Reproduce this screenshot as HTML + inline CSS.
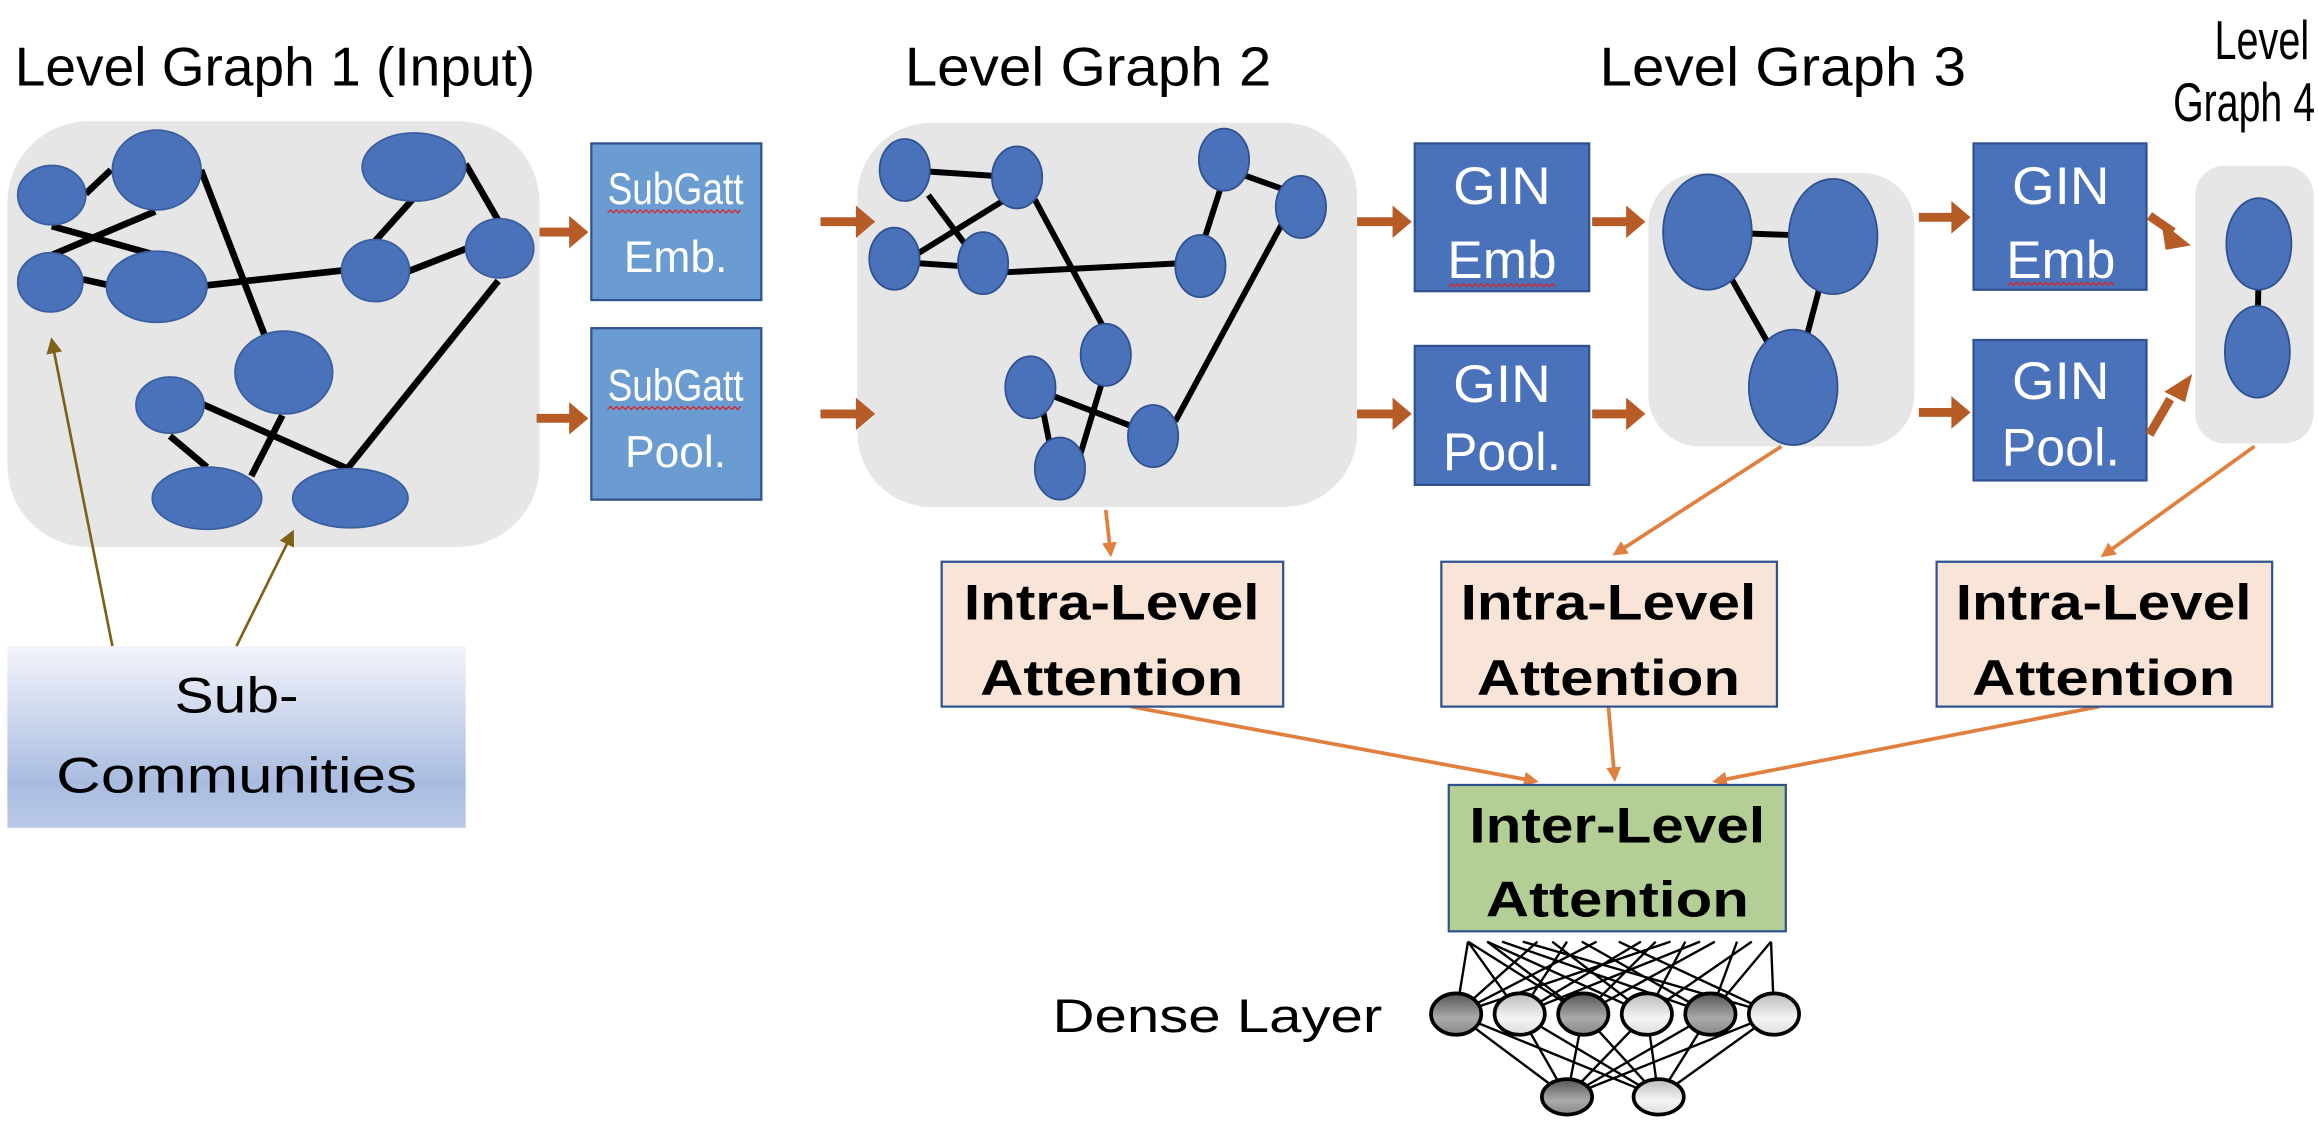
<!DOCTYPE html>
<html><head><meta charset="utf-8"><style>html,body{margin:0;padding:0;background:#fff}svg{display:block}</style></head>
<body>
<svg width="2318" height="1122" viewBox="0 0 1568 759" preserveAspectRatio="none" xmlns="http://www.w3.org/2000/svg" font-family="'Liberation Sans', sans-serif">
<defs>
<linearGradient id="sg" x1="0" y1="0" x2="0" y2="1"><stop offset="0" stop-color="#f4f5fb"/><stop offset="0.75" stop-color="#a9bce0"/><stop offset="1" stop-color="#b9c8e6"/></linearGradient>
<linearGradient id="dk" x1="0" y1="0" x2="0" y2="1"><stop offset="0" stop-color="#555"/><stop offset="0.6" stop-color="#aaa"/><stop offset="1" stop-color="#888"/></linearGradient>
<linearGradient id="lt" x1="0" y1="0" x2="0" y2="1"><stop offset="0" stop-color="#bbb"/><stop offset="0.6" stop-color="#f4f4f4"/><stop offset="1" stop-color="#ddd"/></linearGradient>
<marker id="ob" markerWidth="4" markerHeight="4" refX="2" refY="2" orient="auto" markerUnits="strokeWidth"><path d="M0,0 L4,2 L0,4 z" fill="#e07f3e"/></marker>
<marker id="br" markerWidth="6" markerHeight="6" refX="5" refY="3" orient="auto" markerUnits="strokeWidth"><path d="M0,0 L6,3 L0,6 z" fill="#7d6117"/></marker>
</defs>

<g font-size="37" fill="#000">
<text x="10" y="58" textLength="352" lengthAdjust="spacingAndGlyphs">Level Graph 1 (Input)</text>
<text x="612" y="58" textLength="248" lengthAdjust="spacingAndGlyphs">Level Graph 2</text>
<text x="1082" y="58" textLength="248" lengthAdjust="spacingAndGlyphs">Level Graph 3</text>
<text x="1498" y="40" textLength="64" lengthAdjust="spacingAndGlyphs">Level</text>
<text x="1470" y="82" textLength="96" lengthAdjust="spacingAndGlyphs">Graph 4</text>
</g>

<rect x="5" y="82" width="360" height="288" rx="55" fill="#e6e6e6"/>
<rect x="580" y="83" width="338" height="260" rx="50" fill="#e6e6e6"/>
<rect x="1115" y="117" width="180" height="185" rx="35" fill="#e6e6e6"/>
<rect x="1485" y="112" width="80" height="188" rx="20" fill="#e6e6e6"/>

<g stroke="#000" stroke-width="4.5">
<line x1="58" y1="131" x2="75" y2="115"/><line x1="35" y1="153" x2="107" y2="173"/><line x1="34" y1="173" x2="105" y2="143"/>
<line x1="56" y1="189" x2="74" y2="193"/><line x1="136" y1="115" x2="181" y2="232"/><line x1="140" y1="193" x2="231" y2="183"/>
<line x1="252" y1="165" x2="279" y2="135"/><line x1="275" y1="184" x2="316" y2="168"/><line x1="315" y1="111" x2="337" y2="149"/>
<line x1="337" y1="190" x2="235" y2="317"/><line x1="136" y1="273" x2="235" y2="317"/><line x1="115" y1="295" x2="140" y2="316"/>
<line x1="191" y1="281" x2="170" y2="322"/>
</g>
<g fill="#4a72bb" stroke="#3a5f9e" stroke-width="1.2">
<ellipse cx="35" cy="132" rx="23" ry="20"/><ellipse cx="106" cy="115" rx="30" ry="27"/><ellipse cx="34" cy="191" rx="22" ry="20"/>
<ellipse cx="106" cy="194" rx="34" ry="24"/><ellipse cx="280" cy="113" rx="35" ry="23"/><ellipse cx="254" cy="183" rx="23" ry="21"/>
<ellipse cx="338" cy="168" rx="23" ry="20"/><ellipse cx="192" cy="252" rx="33" ry="28"/><ellipse cx="115" cy="274" rx="23" ry="19"/>
<ellipse cx="140" cy="337" rx="37" ry="21"/><ellipse cx="237" cy="337" rx="39" ry="20"/>
</g>

<g stroke="#000" stroke-width="4">
<line x1="612" y1="115" x2="688" y2="120"/><line x1="628" y1="132" x2="655" y2="168"/><line x1="688" y1="130" x2="620" y2="172"/>
<line x1="620" y1="178" x2="650" y2="180"/><line x1="665" y1="185" x2="800" y2="178"/><line x1="700" y1="135" x2="750" y2="228"/>
<line x1="828" y1="120" x2="812" y2="170"/><line x1="840" y1="118" x2="868" y2="128"/><line x1="868" y1="150" x2="795" y2="285"/>
<line x1="697" y1="262" x2="770" y2="290"/><line x1="748" y1="250" x2="730" y2="310"/><line x1="705" y1="275" x2="712" y2="310"/>
</g>
<g fill="#4a72bb" stroke="#2f528f" stroke-width="1.2">
<ellipse cx="612" cy="115" rx="17" ry="21"/><ellipse cx="688" cy="120" rx="17" ry="21"/><ellipse cx="605" cy="175" rx="17" ry="21"/>
<ellipse cx="665" cy="178" rx="17" ry="21"/><ellipse cx="812" cy="180" rx="17" ry="21"/><ellipse cx="828" cy="108" rx="17" ry="21"/>
<ellipse cx="880" cy="140" rx="17" ry="21"/><ellipse cx="748" cy="240" rx="17" ry="21"/><ellipse cx="697" cy="262" rx="17" ry="21"/>
<ellipse cx="780" cy="295" rx="17" ry="21"/><ellipse cx="717" cy="317" rx="17" ry="21"/>
</g>

<g stroke="#000" stroke-width="4"><line x1="1155" y1="157" x2="1240" y2="160"/><line x1="1155" y1="160" x2="1213" y2="262"/><line x1="1240" y1="160" x2="1213" y2="262"/></g>
<g fill="#4a72bb" stroke="#2f528f" stroke-width="1.2">
<ellipse cx="1155" cy="157" rx="30" ry="39"/><ellipse cx="1240" cy="160" rx="30" ry="39"/><ellipse cx="1213" cy="262" rx="30" ry="39"/>
</g>
<line x1="1528" y1="170" x2="1527" y2="235" stroke="#000" stroke-width="4"/>
<g fill="#4a72bb" stroke="#2f528f" stroke-width="1.2"><ellipse cx="1528" cy="165" rx="22" ry="31"/><ellipse cx="1527" cy="238" rx="22" ry="31"/></g>

<g stroke="#2f528f" stroke-width="1.5">
<rect x="400" y="97" width="115" height="106" fill="#6a9bd1"/>
<rect x="400" y="222" width="115" height="116" fill="#6a9bd1"/>
<rect x="957" y="97" width="118" height="100" fill="#4a72bb"/>
<rect x="957" y="234" width="118" height="94" fill="#4a72bb"/>
<rect x="1335" y="97" width="117" height="99" fill="#4a72bb"/>
<rect x="1335" y="230" width="117" height="95" fill="#4a72bb"/>
</g>
<g fill="#fff" text-anchor="middle">
<text x="457" y="138" font-size="30" textLength="92" lengthAdjust="spacingAndGlyphs">SubGatt</text>
<text x="457" y="184" font-size="30">Emb.</text>
<text x="457" y="271" font-size="30" textLength="92" lengthAdjust="spacingAndGlyphs">SubGatt</text>
<text x="457" y="316" font-size="30">Pool.</text>
<text x="1016" y="138" font-size="36" textLength="66" lengthAdjust="spacingAndGlyphs">GIN</text>
<text x="1016" y="188" font-size="36" textLength="74" lengthAdjust="spacingAndGlyphs">Emb</text>
<text x="1016" y="272" font-size="36" textLength="66" lengthAdjust="spacingAndGlyphs">GIN</text>
<text x="1016" y="318" font-size="36" textLength="80" lengthAdjust="spacingAndGlyphs">Pool.</text>
<text x="1394" y="138" font-size="36" textLength="66" lengthAdjust="spacingAndGlyphs">GIN</text>
<text x="1394" y="188" font-size="36" textLength="74" lengthAdjust="spacingAndGlyphs">Emb</text>
<text x="1394" y="270" font-size="36" textLength="66" lengthAdjust="spacingAndGlyphs">GIN</text>
<text x="1394" y="315" font-size="36" textLength="80" lengthAdjust="spacingAndGlyphs">Pool.</text>
</g>
<g fill="none" stroke="#e02020" stroke-width="0.8">
<path d="M411,144 l2,-2 l2,2 l2,-2 l2,2 l2,-2 l2,2 l2,-2 l2,2 l2,-2 l2,2 l2,-2 l2,2 l2,-2 l2,2 l2,-2 l2,2 l2,-2 l2,2 l2,-2 l2,2 l2,-2 l2,2 l2,-2 l2,2 l2,-2 l2,2 l2,-2 l2,2 l2,-2 l2,2 l2,-2 l2,2 l2,-2 l2,2 l2,-2 l2,2 l2,-2 l2,2 l2,-2 l2,2 l2,-2 l2,2 l2,-2 l2,2 l2,-2"/>
<path d="M411,277 l2,-2 l2,2 l2,-2 l2,2 l2,-2 l2,2 l2,-2 l2,2 l2,-2 l2,2 l2,-2 l2,2 l2,-2 l2,2 l2,-2 l2,2 l2,-2 l2,2 l2,-2 l2,2 l2,-2 l2,2 l2,-2 l2,2 l2,-2 l2,2 l2,-2 l2,2 l2,-2 l2,2 l2,-2 l2,2 l2,-2 l2,2 l2,-2 l2,2 l2,-2 l2,2 l2,-2 l2,2 l2,-2 l2,2 l2,-2 l2,2 l2,-2"/>
<path d="M980,194 l2,-2 l2,2 l2,-2 l2,2 l2,-2 l2,2 l2,-2 l2,2 l2,-2 l2,2 l2,-2 l2,2 l2,-2 l2,2 l2,-2 l2,2 l2,-2 l2,2 l2,-2 l2,2 l2,-2 l2,2 l2,-2 l2,2 l2,-2 l2,2 l2,-2 l2,2 l2,-2 l2,2 l2,-2 l2,2 l2,-2 l2,2 l2,-2 l2,2"/>
<path d="M1358,193 l2,-2 l2,2 l2,-2 l2,2 l2,-2 l2,2 l2,-2 l2,2 l2,-2 l2,2 l2,-2 l2,2 l2,-2 l2,2 l2,-2 l2,2 l2,-2 l2,2 l2,-2 l2,2 l2,-2 l2,2 l2,-2 l2,2 l2,-2 l2,2 l2,-2 l2,2 l2,-2 l2,2 l2,-2 l2,2 l2,-2 l2,2 l2,-2 l2,2"/>
</g>

<g fill="#b85c27">
<path d="M365,154 h20 v-8 l13,11 l-13,11 v-8 h-20 z"/>
<path d="M363,280 h22 v-8 l13,11 l-13,11 v-8 h-22 z"/>
<path d="M555,147 h24 v-8 l13,11 l-13,11 v-8 h-24 z"/>
<path d="M555,277 h24 v-8 l13,11 l-13,11 v-8 h-24 z"/>
<path d="M918,147 h24 v-8 l13,11 l-13,11 v-8 h-24 z"/>
<path d="M918,277 h24 v-8 l13,11 l-13,11 v-8 h-24 z"/>
<path d="M1077,147 h23 v-8 l13,11 l-13,11 v-8 h-23 z"/>
<path d="M1077,277 h23 v-8 l13,11 l-13,11 v-8 h-23 z"/>
<path d="M1298,144 h22 v-8 l13,11 l-13,11 v-8 h-22 z"/>
<path d="M1298,276 h22 v-8 l13,11 l-13,11 v-8 h-22 z"/>
</g>
<g stroke="#b85c27" stroke-width="6"><line x1="1454" y1="146" x2="1470" y2="157"/><line x1="1454" y1="294" x2="1468" y2="270"/></g>
<path d="M1462,150 l20,16 l-17,3 z M1464,265 l19,-12 l-5,19 z" fill="#b85c27"/>

<g stroke="#e07f3e" stroke-width="2.5" fill="none" marker-end="url(#ob)">
<line x1="748" y1="345" x2="751" y2="372"/>
<line x1="1205" y1="302" x2="1095" y2="373"/>
<line x1="1525" y1="302" x2="1425" y2="374"/>
<line x1="765" y1="478" x2="1036" y2="528"/>
<line x1="1088" y1="478" x2="1092" y2="524"/>
<line x1="1420" y1="478" x2="1163" y2="528"/>
</g>

<g stroke="#2f528f" stroke-width="1.5">
<rect x="637" y="380" width="231" height="98" fill="#f8e5d8"/>
<rect x="975" y="380" width="227" height="98" fill="#f8e5d8"/>
<rect x="1310" y="380" width="227" height="98" fill="#f8e5d8"/>
<rect x="980" y="531" width="228" height="99" fill="#b3cf95"/>
</g>
<g font-weight="bold" font-size="34" text-anchor="middle" fill="#000">
<text x="752" y="419" textLength="200" lengthAdjust="spacingAndGlyphs">Intra-Level</text>
<text x="752" y="470" textLength="178" lengthAdjust="spacingAndGlyphs">Attention</text>
<text x="1088" y="419" textLength="200" lengthAdjust="spacingAndGlyphs">Intra-Level</text>
<text x="1088" y="470" textLength="178" lengthAdjust="spacingAndGlyphs">Attention</text>
<text x="1423" y="419" textLength="200" lengthAdjust="spacingAndGlyphs">Intra-Level</text>
<text x="1423" y="470" textLength="178" lengthAdjust="spacingAndGlyphs">Attention</text>
<text x="1094" y="570" textLength="200" lengthAdjust="spacingAndGlyphs">Inter-Level</text>
<text x="1094" y="620" textLength="178" lengthAdjust="spacingAndGlyphs">Attention</text>
</g>

<rect x="5" y="437" width="310" height="123" fill="url(#sg)"/>
<g font-size="34" text-anchor="middle" fill="#000">
<text x="160" y="482" textLength="84" lengthAdjust="spacingAndGlyphs">Sub-</text>
<text x="160" y="536" textLength="244" lengthAdjust="spacingAndGlyphs">Communities</text>
</g>
<g stroke="#7d6117" stroke-width="1.8" marker-end="url(#br)">
<line x1="76" y1="437" x2="35" y2="230"/>
<line x1="160" y1="437" x2="198" y2="360"/>
</g>

<text x="712" y="698" font-size="32" textLength="223" lengthAdjust="spacingAndGlyphs">Dense Layer</text>
<g stroke="#000" stroke-width="1.6">
<line x1="993" y1="637" x2="985" y2="686"/><line x1="993" y1="637" x2="1028" y2="686"/><line x1="993" y1="637" x2="1071" y2="686"/>
<line x1="1006" y1="637" x2="1071" y2="686"/><line x1="1006" y1="637" x2="1114" y2="686"/><line x1="1016" y1="637" x2="1157" y2="686"/>
<line x1="1030" y1="637" x2="1200" y2="686"/><line x1="1040" y1="637" x2="985" y2="686"/><line x1="1050" y1="637" x2="1114" y2="686"/>
<line x1="1060" y1="637" x2="1028" y2="686"/><line x1="1070" y1="637" x2="1157" y2="686"/><line x1="1080" y1="637" x2="985" y2="686"/>
<line x1="1095" y1="637" x2="1200" y2="686"/><line x1="1110" y1="637" x2="1028" y2="686"/><line x1="1120" y1="637" x2="1071" y2="686"/>
<line x1="1130" y1="637" x2="985" y2="686"/><line x1="1140" y1="637" x2="1114" y2="686"/><line x1="1150" y1="637" x2="1028" y2="686"/>
<line x1="1160" y1="637" x2="1071" y2="686"/><line x1="1175" y1="637" x2="1157" y2="686"/><line x1="1185" y1="637" x2="1114" y2="686"/>
<line x1="1198" y1="637" x2="1200" y2="686"/><line x1="1198" y1="637" x2="1157" y2="686"/>
<line x1="985" y1="686" x2="1060" y2="742"/><line x1="985" y1="686" x2="1122" y2="742"/>
<line x1="1028" y1="686" x2="1060" y2="742"/><line x1="1028" y1="686" x2="1122" y2="742"/>
<line x1="1071" y1="686" x2="1060" y2="742"/><line x1="1071" y1="686" x2="1122" y2="742"/>
<line x1="1114" y1="686" x2="1060" y2="742"/><line x1="1114" y1="686" x2="1122" y2="742"/>
<line x1="1157" y1="686" x2="1060" y2="742"/><line x1="1157" y1="686" x2="1122" y2="742"/>
<line x1="1200" y1="686" x2="1060" y2="742"/><line x1="1200" y1="686" x2="1122" y2="742"/>
</g>
<g stroke="#000" stroke-width="2.5">
<ellipse cx="985" cy="686" rx="17" ry="14" fill="url(#dk)"/><ellipse cx="1028" cy="686" rx="17" ry="14" fill="url(#lt)"/>
<ellipse cx="1071" cy="686" rx="17" ry="14" fill="url(#dk)"/><ellipse cx="1114" cy="686" rx="17" ry="14" fill="url(#lt)"/>
<ellipse cx="1157" cy="686" rx="17" ry="14" fill="url(#dk)"/><ellipse cx="1200" cy="686" rx="17" ry="14" fill="url(#lt)"/>
<ellipse cx="1060" cy="742" rx="17" ry="12" fill="url(#dk)"/><ellipse cx="1122" cy="742" rx="17" ry="12" fill="url(#lt)"/>
</g>
</svg>
</body></html>
